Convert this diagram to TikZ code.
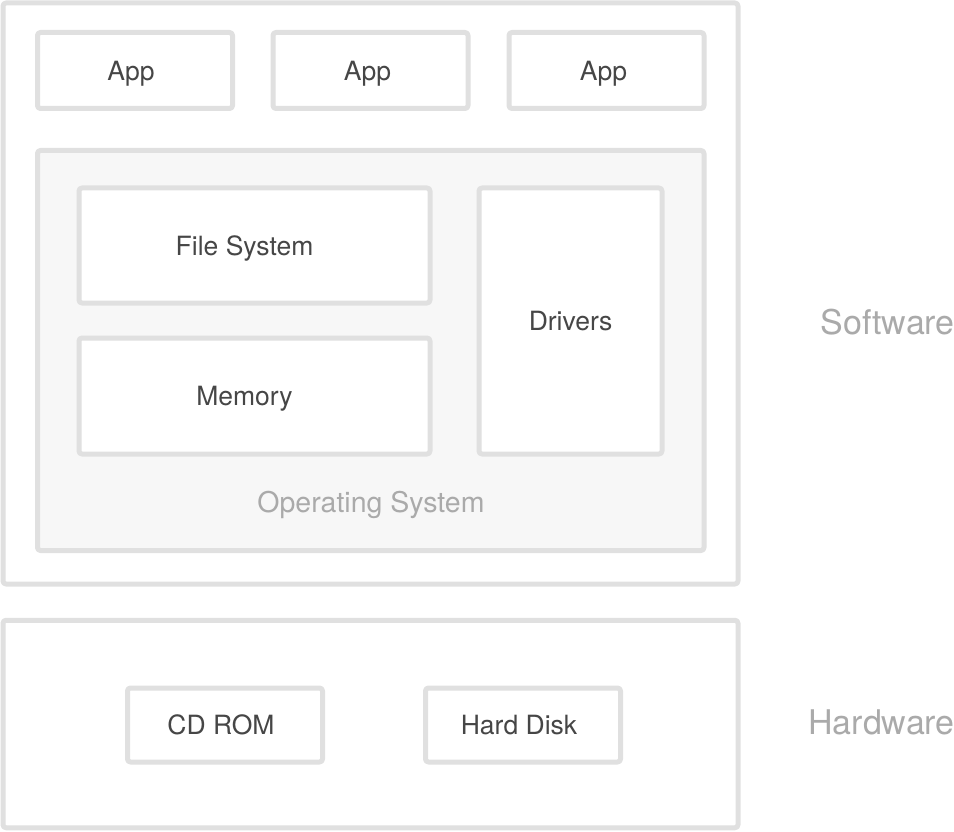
\documentclass[tikz,border=0pt]{standalone}
\usepackage{fontspec}
\setmainfont{TeX Gyre Heros}
\definecolor{boxline}{HTML}{E0E0E0}
\definecolor{osfill}{HTML}{F7F7F7}
\definecolor{boxtext}{HTML}{464646}
\definecolor{layertext}{HTML}{AAAAAA}
\begin{document}
\begin{tikzpicture}[x = 1pt, y = -1pt, line join = round,
	box/.style = {rectangle, line width = 5pt, rounded corners = 3pt, draw = boxline, fill = white, anchor = center, outer sep = 0pt},
	boxlabel/.style = {text = boxtext, font = \fontsize{26.5}{30}\selectfont, text depth = 0pt},
	layer/.style = {text = layertext, font = \fontsize{34}{40}\selectfont, anchor = east, inner sep = 0pt}]
			%		\draw[gray!50,xstep = 100, ystep = 100] (0,0) grid (954,832);
			\useasboundingbox (0,0) rectangle (954,832);
			
			\node[box, minimum width = 735pt, minimum height = 581pt] (sw) at (370.5,293.5) {};
			\node[box, minimum width = 735pt, minimum height = 207.5pt] (hw) at (370.5,724) {};
			\node[box, minimum width = 195pt, minimum height = 76pt, label = {[boxlabel, xshift = -4pt]center:App}] (app1) at (135,70.5) {};
			\node[box, minimum width = 195pt, minimum height = 76pt, label = {[boxlabel, xshift = -3pt]center:App}] (app2) at (370.5,70.5) {};
			\node[box, minimum width = 195pt, minimum height = 76pt, label = {[boxlabel, xshift = -3pt]center:App}] (app3) at (606.5,70.5) {};
			\node[box, fill = osfill, minimum width = 666.5pt, minimum height = 400pt] (os) at (370.75,350.5) {};
			\node[box, minimum width = 351pt, minimum height = 115pt, label = {[boxlabel, xshift = -10pt]center:File System}] (fs) at (254.5,245.5) {};
			\node[box, minimum width = 351pt, minimum height = 116pt, label = {[boxlabel, xshift = -10pt]center:Memory}] (mem) at (254.5,396) {};
			\node[box, minimum width = 183pt, minimum height = 266pt, label = {[boxlabel]center:Drivers}] (drv) at (570.5,321) {};
			\node[box, minimum width = 195pt, minimum height = 74pt, label = {[boxlabel, xshift = -4pt]center:CD ROM}] (cd) at (225,725) {};
			\node[box, minimum width = 195pt, minimum height = 74pt, label = {[boxlabel, xshift = -4pt]center:Hard Disk}] (hd) at (523,725) {};
			\path
			(371,505) node[text = layertext, font = \fontsize{28.5}{34}\selectfont] (oslabel) {Operating System}
			(955,322) node[layer] (swlabel) {Software}
			(955,722) node[layer] (hwlabel) {Hardware}
			;
		\end{tikzpicture}
\end{document}
